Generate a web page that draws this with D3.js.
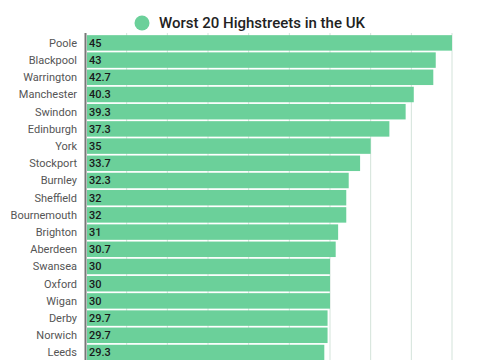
<!DOCTYPE html>
<html><head><meta charset="utf-8">
<script src="https://cdn.jsdelivr.net/npm/d3@7"></script>
<style>body{margin:0;background:#fff}svg{display:block;font-family:Roboto,"Noto Sans",sans-serif}</style>
</head><body>
<script>
const categories = ["Poole","Blackpool","Warrington","Manchester","Swindon","Edinburgh","York","Stockport","Burnley","Sheffield","Bournemouth","Brighton","Aberdeen","Swansea","Oxford","Wigan","Derby","Norwich","Leeds","Leicester"];
const values = [45,43,42.7,40.3,39.3,37.3,35,33.7,32.3,32,32,31,30.7,30,30,30,29.7,29.7,29.3,29];
const xTicks = [0,5,10,15,20,25,30,35,40,45];
const title = "Worst 20 Highstreets in the UK";

const W = 485, H = 360;
const svg = d3.select("body").append("svg").attr("width", W).attr("height", H);
const x = d3.scaleLinear().domain([0,45]).range([86, 452]);
const y = d3.scaleBand().domain(categories).range([34.3, 34.3 + 17.2*categories.length]).paddingInner(0.1).paddingOuter(0.05);

// gridlines
svg.append("g").selectAll("line").data(xTicks.slice(1)).join("line")
  .attr("x1", d => x(d)).attr("x2", d => x(d))
  .attr("y1", 33).attr("y2", H)
  .attr("stroke", "#d3e3da").attr("stroke-width", 1);

// bars
svg.append("g").selectAll("rect").data(values).join("rect")
  .attr("x", x(0) + 1)
  .attr("y", (d,i) => y(categories[i]))
  .attr("width", d => x(d) - x(0) - 1)
  .attr("height", y.bandwidth())
  .attr("fill", "#6bd09a");

// axis line
svg.append("line").attr("x1", 85.5).attr("x2", 85.5).attr("y1", 33).attr("y2", H)
  .attr("stroke", "#777").attr("stroke-width", 2);

// category labels
svg.append("g").selectAll("text").data(categories).join("text")
  .attr("x", 77).attr("y", d => y(d) + y.bandwidth()/2)
  .attr("dy", "0.35em").attr("text-anchor", "end")
  .attr("font-size", 11).attr("fill", "#555").text(d => d);

// value labels
svg.append("g").selectAll("text").data(values).join("text")
  .attr("x", 89).attr("y", (d,i) => y(categories[i]) + y.bandwidth()/2)
  .attr("dy", "0.35em").attr("font-size", 11).attr("font-weight", 500)
  .attr("fill", "#1a1a1a").text(d => d);

// legend
svg.append("circle").attr("cx", 142).attr("cy", 23).attr("r", 7.5).attr("fill", "#6bd09a");
svg.append("text").attr("x", 159).attr("y", 23).attr("dy", "0.35em")
  .attr("font-size", 15).attr("font-weight", 500).attr("fill", "#222").text(title);
</script>
</body></html>
